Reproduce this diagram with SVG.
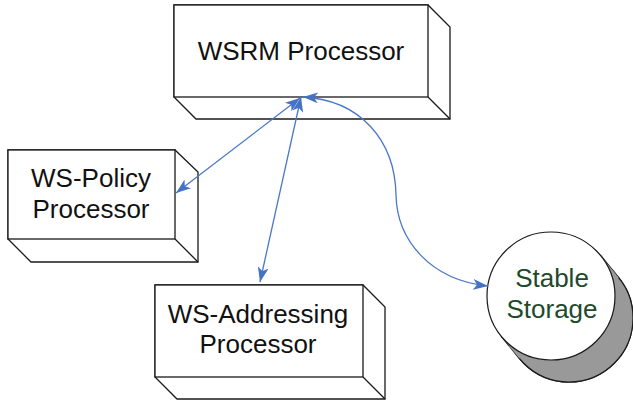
<svg xmlns="http://www.w3.org/2000/svg" width="633" height="402" viewBox="0 0 633 402">
<style>
.box{fill:#fff;stroke:#1a1a1a;stroke-width:1.3}
.lbl{font-family:"Liberation Sans",Arial,sans-serif;font-size:26px;fill:#111;text-anchor:middle}
.grn{fill:#1e4a2a}
.con{fill:none;stroke:#4a78c4;stroke-width:1.3}
</style>
<defs>
<marker id="ah" viewBox="0 0 15 11" refX="15" refY="5.5" markerWidth="15" markerHeight="11" markerUnits="userSpaceOnUse" orient="auto-start-reverse">
<path d="M0,0 L15,5.5 L0,11 L4,5.5 z" fill="#4472c4"/>
</marker>
</defs>
<rect width="633" height="402" fill="#fff"/>
<g id="wsrm">
<path class="box" d="M174,5 L428,5 L450,27 L450,119 L196,119 L174,97 z"/>
<rect class="box" x="174" y="5" width="254" height="92"/>
<line class="box" x1="428" y1="97" x2="450" y2="119"/>
<text class="lbl" x="301" y="60">WSRM Processor</text>
</g>
<g id="policy">
<path class="box" d="M8,150 L175,150 L198,172 L198,262 L31,262 L8,239 z"/>
<rect class="box" x="8" y="150" width="167" height="89"/>
<line class="box" x1="175" y1="239" x2="198" y2="262"/>
<text class="lbl" x="91" y="187">WS-Policy</text>
<text class="lbl" x="91" y="218">Processor</text>
</g>
<g id="addressing">
<path class="box" d="M155,285 L363,285 L385,307 L385,399 L177,399 L155,377 z"/>
<rect class="box" x="155" y="285" width="208" height="92"/>
<line class="box" x1="363" y1="377" x2="385" y2="399"/>
<text class="lbl" x="258" y="323">WS-Addressing</text>
<text class="lbl" x="258" y="353">Processor</text>
</g>
<g id="storage">
<path d="M600.6,255.4 L618.6,277.4 A64,64 0 0 1 519.4,358.6 L501.4,336.6 z" fill="#999" stroke="#1a1a1a" stroke-width="1.2"/>
<circle cx="569" cy="318" r="64" fill="#999" stroke="#1a1a1a" stroke-width="1.2"/>
<path d="M600.6,255.4 L618.6,277.4 L519.4,358.6 L501.4,336.6 z" fill="#999"/>
<circle cx="551" cy="296" r="64" fill="#fff" stroke="#1a1a1a" stroke-width="1.2"/>
<text class="lbl grn" x="552" y="287">Stable</text>
<text class="lbl grn" x="552" y="318">Storage</text>
</g>
<g id="connectors">
<path class="con" d="M176,193 L300,98" marker-start="url(#ah)" marker-end="url(#ah)"/>
<path class="con" d="M260,282 L301,97" marker-start="url(#ah)" marker-end="url(#ah)"/>
<path class="con" d="M303,97 C360,100 395,140 396,195 C397,240 430,280 488,286" marker-start="url(#ah)" marker-end="url(#ah)"/>
</g>
</svg>
